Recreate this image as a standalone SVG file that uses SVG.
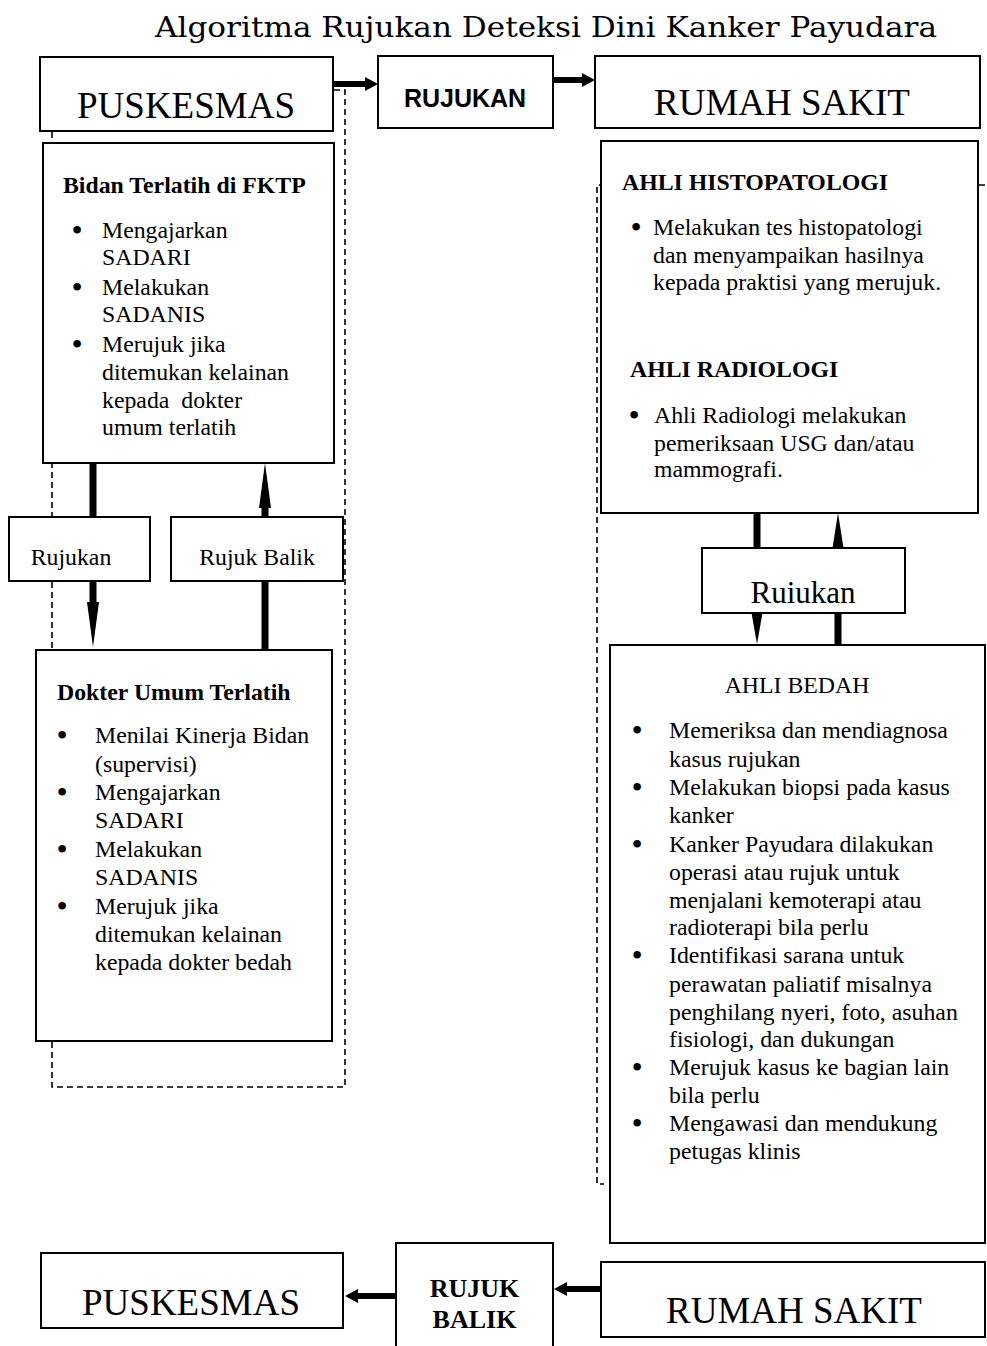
<svg xmlns="http://www.w3.org/2000/svg" width="987" height="1346" viewBox="0 0 987 1346">
<style>
.box{fill:#fff;stroke:#000;stroke-width:2}
.dash{fill:none;stroke:#000;stroke-width:1.6;stroke-dasharray:6,4}
.t{font-family:"Liberation Serif","Times New Roman",serif;font-size:23.8px;fill:#000}
.b{font-weight:bold}
.bul{font-family:"Liberation Serif","Times New Roman",serif;font-size:32px;fill:#000;text-anchor:middle}
.big{font-family:"Liberation Serif","Times New Roman",serif;font-size:37px;fill:#000;text-anchor:middle}
.mid{text-anchor:middle}
.shaft{stroke:#000;stroke-width:6;fill:none}
.vshaft{stroke:#000;stroke-width:7;fill:none}
.head{fill:#000}
</style>
<defs>
<marker id="ah" markerUnits="userSpaceOnUse" markerWidth="13" markerHeight="14" viewBox="0 0 13 14" refX="1" refY="7" orient="auto">
<path d="M0,0 L13,7 L0,14 z" fill="#000"/>
</marker>
</defs>

<text id="title" x="546" y="37" font-family="DejaVu Serif, Liberation Serif, serif" font-size="27" text-anchor="middle" textLength="782" lengthAdjust="spacingAndGlyphs">Algoritma Rujukan Deteksi Dini Kanker Payudara</text>

<g id="groups-dashed">
<path class="dash" d="M334,90 H345 V1087 H52 V131"/>
<path class="dash" d="M985,185 H597 V1184 H604"/>
</g>

<g id="connectors">
<line class="shaft" x1="334" y1="84" x2="366" y2="84" marker-end="url(#ah)"/>
<line class="shaft" x1="553" y1="80" x2="583" y2="80" marker-end="url(#ah)"/>
<line class="shaft" x1="601" y1="1289" x2="566" y2="1289" marker-end="url(#ah)"/>
<line class="shaft" x1="396" y1="1296" x2="357" y2="1296" marker-end="url(#ah)"/>
<line class="vshaft" x1="93" y1="463" x2="93" y2="517"/>
<line class="vshaft" x1="93" y1="581" x2="93" y2="603"/>
<polygon class="head" points="87,602 99,602 93,647"/>
<line class="vshaft" x1="265" y1="650" x2="265" y2="581"/>
<line class="vshaft" x1="265" y1="517" x2="265" y2="507"/>
<polygon class="head" points="259,508 271,508 265,463"/>
<line class="vshaft" x1="757" y1="513" x2="757" y2="548"/>
<polygon class="head" points="751.5,613 762.5,613 757,644"/>
<line class="vshaft" x1="838" y1="645" x2="838" y2="613"/>
<polygon class="head" points="832.5,548 843.5,548 838,513"/>
</g>

<g id="puskesmas-top">
<rect class="box" x="40" y="57" width="293" height="74"/>
<text class="big" x="186" y="118">PUSKESMAS</text>
</g>

<g id="rujukan-top">
<rect class="box" x="378" y="56" width="175" height="72"/>
<text x="465" y="107" font-family="Liberation Sans, Arial, sans-serif" font-size="25" font-weight="bold" text-anchor="middle">RUJUKAN</text>
</g>

<g id="rumahsakit-top">
<rect class="box" x="595" y="56" width="385" height="72"/>
<text class="big" x="782" y="115">RUMAH SAKIT</text>
</g>

<g id="bidan">
<rect class="box" x="43" y="143" width="291" height="320"/>
<text class="t b" x="63" y="193">Bidan Terlatih di FKTP</text>
<text class="bul" x="77" y="241">•</text>
<text class="bul" x="77" y="298">•</text>
<text class="bul" x="77" y="355">•</text>
<text class="t" x="102" y="238">Mengajarkan</text>
<text class="t" x="102" y="265">SADARI</text>
<text class="t" x="102" y="295">Melakukan</text>
<text class="t" x="102" y="322">SADANIS</text>
<text class="t" x="102" y="352">Merujuk jika</text>
<text class="t" x="102" y="380">ditemukan kelainan</text>
<text class="t" x="102" y="408" xml:space="preserve">kepada  dokter</text>
<text class="t" x="102" y="435">umum terlatih</text>
</g>

<g id="label-rujukan">
<rect class="box" x="9" y="517" width="141" height="64"/>
<text class="t mid" x="71" y="565">Rujukan</text>
</g>

<g id="label-rujuk-balik">
<rect class="box" x="171" y="517" width="172" height="64"/>
<text class="t mid" x="257" y="565">Rujuk Balik</text>
</g>

<g id="dokter">
<rect class="box" x="36" y="650" width="296" height="391"/>
<text class="t b" x="57" y="700">Dokter Umum Terlatih</text>
<text class="bul" x="62" y="746">•</text>
<text class="bul" x="62" y="803">•</text>
<text class="bul" x="62" y="860">•</text>
<text class="bul" x="62" y="917">•</text>
<text class="t" x="95" y="743">Menilai Kinerja Bidan</text>
<text class="t" x="95" y="772">(supervisi)</text>
<text class="t" x="95" y="800">Mengajarkan</text>
<text class="t" x="95" y="828">SADARI</text>
<text class="t" x="95" y="857">Melakukan</text>
<text class="t" x="95" y="885">SADANIS</text>
<text class="t" x="95" y="914">Merujuk jika</text>
<text class="t" x="95" y="942">ditemukan kelainan</text>
<text class="t" x="95" y="970">kepada dokter bedah</text>
</g>

<g id="histo-radiologi">
<rect class="box" x="601" y="141" width="377" height="372"/>
<text class="t b" x="622" y="190">AHLI HISTOPATOLOGI</text>
<text class="bul" x="636" y="238">•</text>
<text class="t" x="653" y="235">Melakukan tes histopatologi</text>
<text class="t" x="653" y="263">dan menyampaikan hasilnya</text>
<text class="t" x="653" y="290">kepada praktisi yang merujuk.</text>
<text class="t b" x="630" y="377">AHLI RADIOLOGI</text>
<text class="bul" x="634" y="426">•</text>
<text class="t" x="654" y="423">Ahli Radiologi melakukan</text>
<text class="t" x="654" y="451">pemeriksaan USG dan/atau</text>
<text class="t" x="654" y="477">mammografi.</text>
</g>

<g id="label-ruiukan">
<rect class="box" x="702" y="548" width="203" height="65"/>
<text class="t mid" x="803" y="603" style="font-size:31px">Ruiukan</text>
</g>

<g id="bedah">
<rect class="box" x="610" y="645" width="375" height="598"/>
<text class="t mid" x="797" y="693">AHLI BEDAH</text>
<text class="bul" x="637" y="741">•</text>
<text class="bul" x="637" y="798">•</text>
<text class="bul" x="637" y="855">•</text>
<text class="bul" x="637" y="966">•</text>
<text class="bul" x="637" y="1078">•</text>
<text class="bul" x="637" y="1134">•</text>
<text class="t" x="669" y="738">Memeriksa dan mendiagnosa</text>
<text class="t" x="669" y="767">kasus rujukan</text>
<text class="t" x="669" y="795">Melakukan biopsi pada kasus</text>
<text class="t" x="669" y="823">kanker</text>
<text class="t" x="669" y="852">Kanker Payudara dilakukan</text>
<text class="t" x="669" y="880">operasi atau rujuk untuk</text>
<text class="t" x="669" y="908">menjalani kemoterapi atau</text>
<text class="t" x="669" y="935">radioterapi bila perlu</text>
<text class="t" x="669" y="963">Identifikasi sarana untuk</text>
<text class="t" x="669" y="992">perawatan paliatif misalnya</text>
<text class="t" x="669" y="1020">penghilang nyeri, foto, asuhan</text>
<text class="t" x="669" y="1047">fisiologi, dan dukungan</text>
<text class="t" x="669" y="1075">Merujuk kasus ke bagian lain</text>
<text class="t" x="669" y="1103">bila perlu</text>
<text class="t" x="669" y="1131">Mengawasi dan mendukung</text>
<text class="t" x="669" y="1159">petugas klinis</text>
</g>

<g id="puskesmas-bottom">
<rect class="box" x="41" y="1253" width="302" height="75"/>
<text class="big" x="191" y="1315">PUSKESMAS</text>
</g>

<g id="rujuk-balik-bottom">
<rect class="box" x="396" y="1243" width="157" height="110"/>
<text class="t b mid" x="474.5" y="1297" style="font-size:26px">RUJUK</text>
<text class="t b mid" x="474.5" y="1328" style="font-size:26px">BALIK</text>
</g>

<g id="rumahsakit-bottom">
<rect class="box" x="601" y="1262" width="384" height="75"/>
<text class="big" x="794" y="1323">RUMAH SAKIT</text>
</g>
</svg>
